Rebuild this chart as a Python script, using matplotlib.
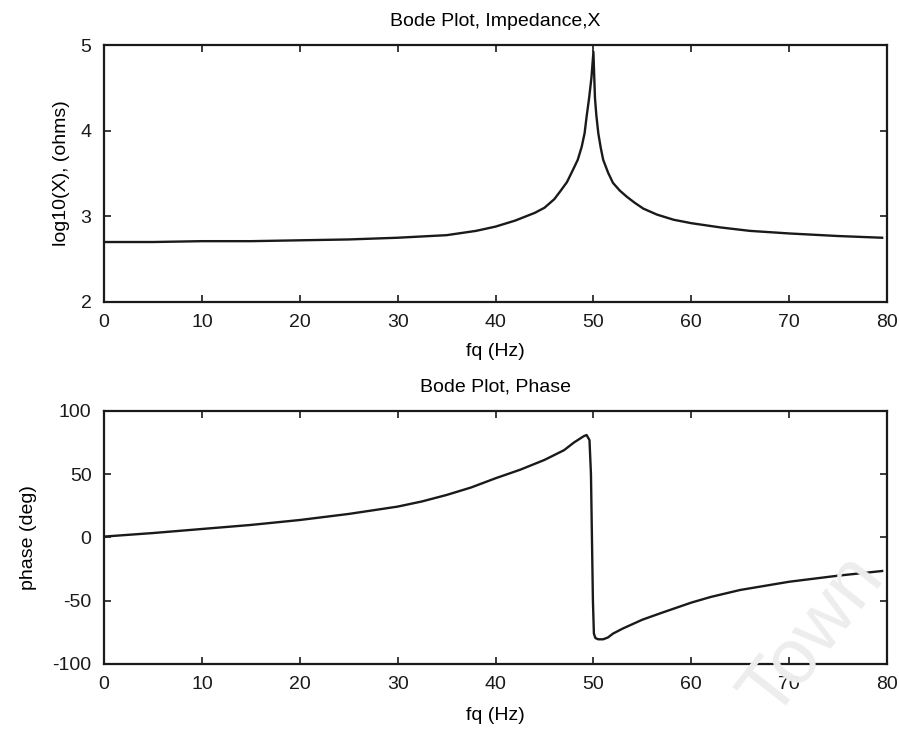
import matplotlib
matplotlib.use('Agg')
import matplotlib.pyplot as plt

# impedance magnitude, log10(X) in ohms
fq_mag = [0, 5, 10, 15, 20, 25, 30, 35, 38, 40, 42, 44, 45, 46, 46.6, 47.3, 47.9, 48.4, 48.8, 49.1, 49.3,
          49.56, 49.8, 50.0, 50.16, 50.3, 50.5, 50.75, 51.0, 51.5, 52.0, 52.7, 53.4, 54.2, 55.1, 56.5, 58.2,
          60, 63, 66, 70, 75, 79.5]
log_x = [2.70, 2.70, 2.71, 2.71, 2.72, 2.73, 2.75, 2.78, 2.83, 2.88, 2.95, 3.04, 3.10, 3.20, 3.29, 3.40,
         3.54, 3.66, 3.81, 3.97, 4.16, 4.38, 4.62, 4.92, 4.38, 4.18, 3.97, 3.80, 3.66, 3.51, 3.39, 3.30, 3.23,
         3.16, 3.09, 3.02, 2.96, 2.92, 2.87, 2.83, 2.80, 2.77, 2.75]

# phase in degrees
fq_ph = [0, 5, 10, 15, 20, 25, 30, 32.5, 35, 37.5, 40, 42.5, 45, 47, 48, 49, 49.3, 49.6, 49.75, 49.85,
         49.95, 50.05, 50.2, 50.5, 51, 51.5, 52, 53, 55, 57, 60, 62, 65, 70, 75, 79.5]
phase = [0.7, 3.5, 6.7, 9.9, 13.8, 18.6, 24.4, 28.5, 33.6, 39.5, 46.8, 53.5, 61.3, 69.0, 75.0, 80.0, 81.0,
         77.0, 50.0, 0.0, -50.0, -76.0, -79.5, -80.5, -80.5, -79.0, -76.0, -72.0, -65.0, -59.5, -51.5,
         -47.0, -41.5, -35.0, -30.2, -26.5]

plt.rcParams['font.family'] = ['Liberation Sans', 'DejaVu Sans']
plt.rcParams['font.size'] = 14
plt.rcParams['axes.unicode_minus'] = False

fig = plt.figure(figsize=(8.99, 7.31), dpi=100)
ax1 = fig.add_axes([0.1157, 0.5869, 0.871, 0.3515])
ax2 = fig.add_axes([0.1157, 0.0917, 0.871, 0.3461])

# faint watermark in the lower right corner
fig.text(0.905, 0.13, 'Town', fontsize=56, color='#ededed', rotation=52, ha='center', va='center', zorder=0)

lc = '#1a1a1a'
ax1.plot(fq_mag, log_x, color=lc, linewidth=1.7)
ax1.set_xlim(0, 80)
ax1.set_ylim(2, 5)
ax1.set_yticks([2, 3, 4, 5])
ax1.set_xticks(range(0, 81, 10))
ax1.set_title('Bode Plot, Impedance,X', fontsize=14, pad=14)
ax1.set_xlabel('fq (Hz)')
ax1.set_ylabel('log10(X), (ohms)')
ax1.yaxis.set_label_coords(-0.044, 0.5)
ax1.xaxis.set_label_coords(0.5, -0.16)

ax2.plot(fq_ph, phase, color=lc, linewidth=1.7)
ax2.set_xlim(0, 80)
ax2.set_ylim(-100, 100)
ax2.set_yticks([-100, -50, 0, 50, 100])
ax2.set_xticks(range(0, 81, 10))
ax2.set_title('Bode Plot, Phase', fontsize=14, pad=14)
ax2.set_xlabel('fq (Hz)')
ax2.set_ylabel('phase (deg)')
ax2.yaxis.set_label_coords(-0.086, 0.5)
ax2.xaxis.set_label_coords(0.5, -0.17)

for ax in (ax1, ax2):
    ax.patch.set_alpha(0)
    ax.tick_params(direction='in', top=True, right=True, length=5, width=1.2, pad=9,
                   labelsize=14, colors='#1a1a1a')
    for sp in ax.spines.values():
        sp.set_linewidth(1.6)
        sp.set_color('#1a1a1a')

fig.savefig('out.png', dpi=100)
